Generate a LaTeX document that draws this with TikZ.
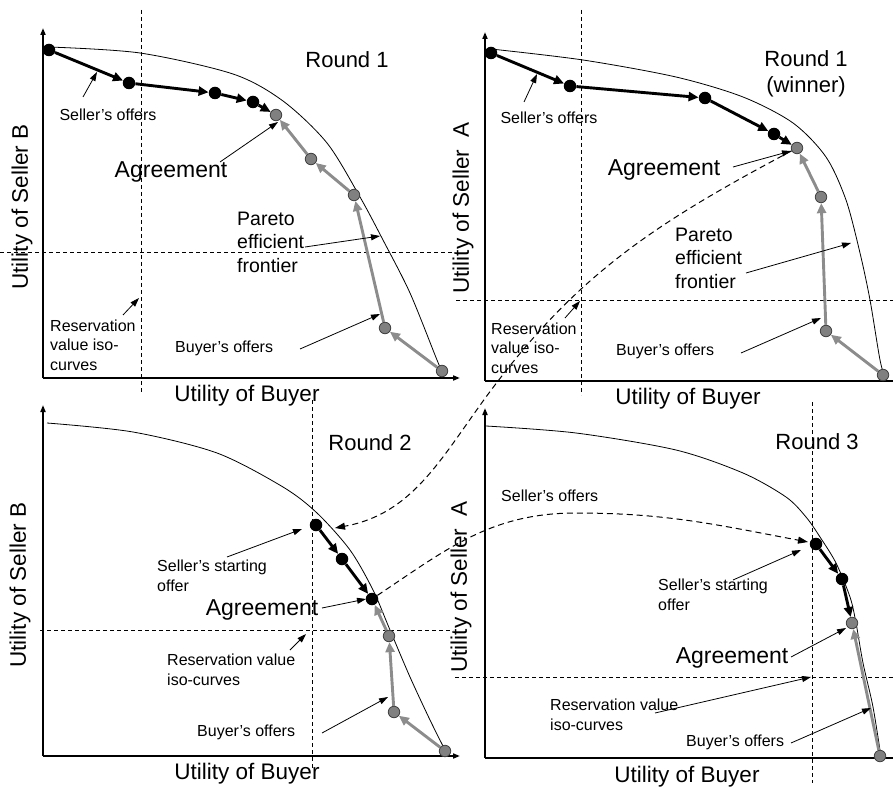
\documentclass[tikz,border=0pt]{standalone}
\usepackage{fontspec}
\setmainfont{Liberation Sans}
\usetikzlibrary{arrows.meta}
\definecolor{garrow}{HTML}{8C8C8C}
\definecolor{gfill}{HTML}{808080}
\definecolor{gline}{HTML}{404040}
\begin{document}
\begin{tikzpicture}[x=1pt,y=-1pt,
  axis/.style={line width=1.8pt,-{Triangle[length=7pt,width=5pt]}},
  axisplain/.style={line width=1.8pt},
  frontier/.style={line width=0.8pt},
  resline/.style={line width=0.8pt,dash pattern=on 4pt off 3pt},
  link/.style={line width=1pt,dash pattern=on 6pt off 4pt,-{Triangle[length=10pt,width=7pt]}},
  sarrow/.style={line width=2.9pt,-{Triangle[length=10pt,width=9pt]}},
  barrow/.style={line width=2.9pt,draw=garrow,-{Triangle[length=10pt,width=9pt]},color=garrow},
  note/.style={line width=0.8pt,-{Triangle[length=9pt,width=6pt]}},
  big/.style={font=\fontsize{22}{24}\selectfont,inner sep=0pt},
  agr/.style={font=\fontsize{23}{25}\selectfont,inner sep=0pt},
  axlab/.style={font=\fontsize{22.5}{25}\selectfont,inner sep=0pt},
  pareto/.style={font=\fontsize{19.5}{23.5}\selectfont,inner sep=0pt,anchor=west,align=left},
  small/.style={font=\fontsize{16}{19.5}\selectfont,inner sep=0pt},
  bdot/.style={circle,fill=black,inner sep=0pt,minimum size=12.5pt},
  gdot/.style={circle,fill=gfill,draw=gline,line width=0.8pt,inner sep=0pt,minimum size=11.5pt}]
\useasboundingbox (0,0) rectangle (893,791);

% ---------------- Panel 1 (Round 1) ----------------
\draw[axis] (43,378) -- (43,28);
\draw[axis] (43,378) -- (460,378);
\draw[frontier] plot[smooth,tension=0.5] coordinates {(49,47) (140,53) (233,74) (283,101) (327,143) (360,197) (383,240) (410,293) (437,360) (444,376)};
\draw[resline] (141,10) -- (141,393);
\draw[resline] (0,252) -- (455,252);
\node[bdot] (p1s1) at (49,50) {};
\node[bdot] (p1s2) at (129,83) {};
\node[bdot] (p1s3) at (215,93) {};
\node[bdot] (p1s4) at (253,102) {};
\node[gdot] (p1a) at (276,115) {};
\node[gdot] (p1b1) at (311,159) {};
\node[gdot] (p1b2) at (354,195) {};
\node[gdot] (p1b3) at (385,328) {};
\node[gdot] (p1b4) at (442,371) {};
\draw[sarrow] (p1s1) -- (p1s2);
\draw[sarrow] (p1s2) -- (p1s3);
\draw[sarrow] (p1s3) -- (p1s4);
\draw[sarrow] (p1s4) -- (p1a);
\draw[barrow] (p1b4) -- (p1b3);
\draw[barrow] (p1b3) -- (p1b2);
\draw[barrow] (p1b2) -- (p1b1);
\draw[barrow] (p1b1) -- (p1a);
\node[big] (r1) at (347,60) {Round 1};
\node[small] (so1) at (108,115) {Seller’s offers};
\node[agr] (ag1) at (171,172) {Agreement};
\node[pareto] (pa1) at (237,242) {Pareto\\efficient\\frontier};
\node[small,anchor=west,align=left] (rv1) at (50,345) {Reservation\\value iso-\\curves};
\node[small,anchor=west] (bo1) at (175,348) {Buyer’s offers};
\node[axlab,rotate=90] (yl1) at (22,207) {Utility of Seller B};
\node[axlab] (xl1) at (247,396) {Utility of Buyer};
\coordinate (n1a) at (83,97);   \coordinate (n1b) at (97,72);
\coordinate (n1c) at (220,162); \coordinate (n1d) at (278,122);
\coordinate (n1e) at (305,247); \coordinate (n1f) at (380,236);
\coordinate (n1g) at (123,315); \coordinate (n1h) at (139,298);
\coordinate (n1i) at (300,349); \coordinate (n1j) at (380,314);
\draw[note] (n1a) -- (n1b);
\draw[note] (n1c) -- (n1d);
\draw[note] (n1e) -- (n1f);
\draw[note] (n1g) -- (n1h);
\draw[note] (n1i) -- (n1j);

% ---------------- Panel 2 (Round 1 winner) ----------------
\draw[axis] (485,381) -- (485,32);
\draw[axisplain] (485,381) -- (893,381);
\draw[frontier] plot[smooth,tension=0.5] coordinates {(491,49) (583,60) (676,77) (743,97) (793,123) (826,157) (846,200) (860,253) (870,300) (880,360) (886,381)};
\draw[resline] (581,10) -- (581,395);
\draw[resline] (456,300) -- (893,300);
\node[bdot] (p2s1) at (491,53) {};
\node[bdot] (p2s2) at (570,86) {};
\node[bdot] (p2s3) at (705,98) {};
\node[bdot] (p2s4) at (774,134) {};
\node[gdot] (p2a) at (797,148) {};
\node[gdot] (p2b1) at (821,197) {};
\node[gdot] (p2b2) at (826,331) {};
\node[gdot] (p2b3) at (883,375) {};
\draw[sarrow] (p2s1) -- (p2s2);
\draw[sarrow] (p2s2) -- (p2s3);
\draw[sarrow] (p2s3) -- (p2s4);
\draw[sarrow] (p2s4) -- (p2a);
\draw[barrow] (p2b3) -- (p2b2);
\draw[barrow] (p2b2) -- (p2b1);
\draw[barrow] (p2b1) -- (p2a);
\node[big,align=center] (r1w) at (806,74) {Round 1\\[2pt](winner)};
\node[small] (so2) at (549,118) {Seller’s offers};
\node[agr] (ag2) at (664,170) {Agreement};
\node[pareto] (pa2) at (675,258) {Pareto\\efficient\\frontier};
\node[small,anchor=west,align=left] (rv2) at (491,348) {Reservation\\value iso-\\curves};
\node[small,anchor=west] (bo2) at (616,351) {Buyer’s offers};
\node[axlab,rotate=90] (yl2) at (463,208) {Utility of Seller\ \ A};
\node[axlab] (xl2) at (688,399) {Utility of Buyer};
\coordinate (n2a) at (524,102); \coordinate (n2b) at (537,74);
\coordinate (n2c) at (733,167); \coordinate (n2d) at (791,151);
\coordinate (n2e) at (746,273); \coordinate (n2f) at (851,243);
\coordinate (n2g) at (565,318); \coordinate (n2h) at (580,301);
\coordinate (n2i) at (741,353); \coordinate (n2j) at (821,318);
\draw[note] (n2a) -- (n2b);
\draw[note] (n2c) -- (n2d);
\draw[note] (n2e) -- (n2f);
\draw[note] (n2g) -- (n2h);
\draw[note] (n2i) -- (n2j);

% ---------------- Panel 3 (Round 2) ----------------
\draw[axis] (43,756) -- (43,405);
\draw[axis] (43,756) -- (460,756);
\draw[frontier] plot[smooth,tension=0.5] coordinates {(47,423) (133,432) (217,453) (283,487) (317,513) (350,550) (373,590) (390,630) (410,677) (430,720) (447,754)};
\draw[resline] (312,400) -- (312,770);
\draw[resline] (40,630) -- (453,630);
\node[bdot] (p3s1) at (316,525) {};
\node[bdot] (p3s2) at (342,559) {};
\node[bdot] (p3a) at (372,599) {};
\node[gdot] (p3b1) at (389,636) {};
\node[gdot] (p3b2) at (394,712) {};
\node[gdot] (p3b3) at (445,751) {};
\draw[sarrow] (p3s1) -- (p3s2);
\draw[sarrow] (p3s2) -- (p3a);
\draw[barrow] (p3b3) -- (p3b2);
\draw[barrow] (p3b2) -- (p3b1);
\draw[barrow] (p3b1) -- (p3a);
\node[big] (r2) at (370,443) {Round 2};
\node[small,anchor=west,align=left] (ss3) at (157,576) {Seller’s starting\\offer};
\node[agr] (ag3) at (262,610) {Agreement};
\node[small,anchor=west,align=left] (rv3) at (167,670) {Reservation value\\iso-curves};
\node[small,anchor=west] (bo3) at (197,732) {Buyer’s offers};
\node[axlab,rotate=90] (yl3) at (20,585) {Utility of Seller B};
\node[axlab] (xl3) at (247,774) {Utility of Buyer};
\coordinate (n3a) at (227,557); \coordinate (n3b) at (302,529);
\coordinate (n3c) at (322,608); \coordinate (n3d) at (366,599);
\coordinate (n3e) at (290,650); \coordinate (n3f) at (306,634);
\coordinate (n3g) at (322,733); \coordinate (n3h) at (388,697);
\draw[note] (n3a) -- (n3b);
\draw[note] (n3c) -- (n3d);
\draw[note] (n3e) -- (n3f);
\draw[note] (n3g) -- (n3h);

% ---------------- Panel 4 (Round 3) ----------------
\draw[axis] (485,758) -- (485,408);
\draw[axisplain] (485,758) -- (893,758);
\draw[frontier] plot[smooth,tension=0.5] coordinates {(486,426) (576,433) (676,450) (743,473) (786,497) (806,517) (820,537) (836,563) (850,597) (856,623) (863,663) (873,707) (881,757)};
\draw[resline] (812,402) -- (812,783);
\draw[resline] (455,677) -- (893,677);
\node[bdot] (p4s1) at (816,544) {};
\node[bdot] (p4s2) at (842,579) {};
\node[gdot] (p4a) at (852,623) {};
\node[gdot] (p4b1) at (880,756) {};
\draw[sarrow] (p4s1) -- (p4s2);
\draw[sarrow] (p4s2) -- (p4a);
\draw[barrow] (p4b1) -- (p4a);
\node[big] (r3) at (817,442) {Round 3};
\node[small,anchor=west] (so4) at (501,496) {Seller’s offers};
\node[small,anchor=west,align=left] (ss4) at (658,595) {Seller’s starting\\offer};
\node[agr] (ag4) at (732,658) {Agreement};
\node[small,anchor=west,align=left] (rv4) at (550,715) {Reservation value\\iso-curves};
\node[small,anchor=west] (bo4) at (686,742) {Buyer’s offers};
\node[axlab,rotate=90] (yl4) at (461,587) {Utility of Seller\ \ A};
\node[axlab] (xl4) at (687,777) {Utility of Buyer};
\coordinate (n4a) at (733,580); \coordinate (n4b) at (801,550);
\coordinate (n4c) at (791,657); \coordinate (n4d) at (846,628);
\coordinate (n4e) at (655,713); \coordinate (n4f) at (811,677);
\coordinate (n4g) at (791,743); \coordinate (n4h) at (871,708);
\draw[note] (n4a) -- (n4b);
\draw[note] (n4c) -- (n4d);
\draw[note] (n4e) -- (n4f);
\draw[note] (n4g) -- (n4h);

% ---------------- links between rounds ----------------
\coordinate (m1) at (486,397);
\coordinate (t2) at (335,528);
\draw[link] (p2a) .. controls (652,225) and (575,276) .. (m1) .. controls (440,460) and (412,514) .. (t2);
\coordinate (m2) at (576,513);
\coordinate (t3) at (808,542);
\draw[link] (p3a) .. controls (447,549) and (491,513) .. (m2) .. controls (667,513) and (718,525) .. (t3);
\end{tikzpicture}
\end{document}
